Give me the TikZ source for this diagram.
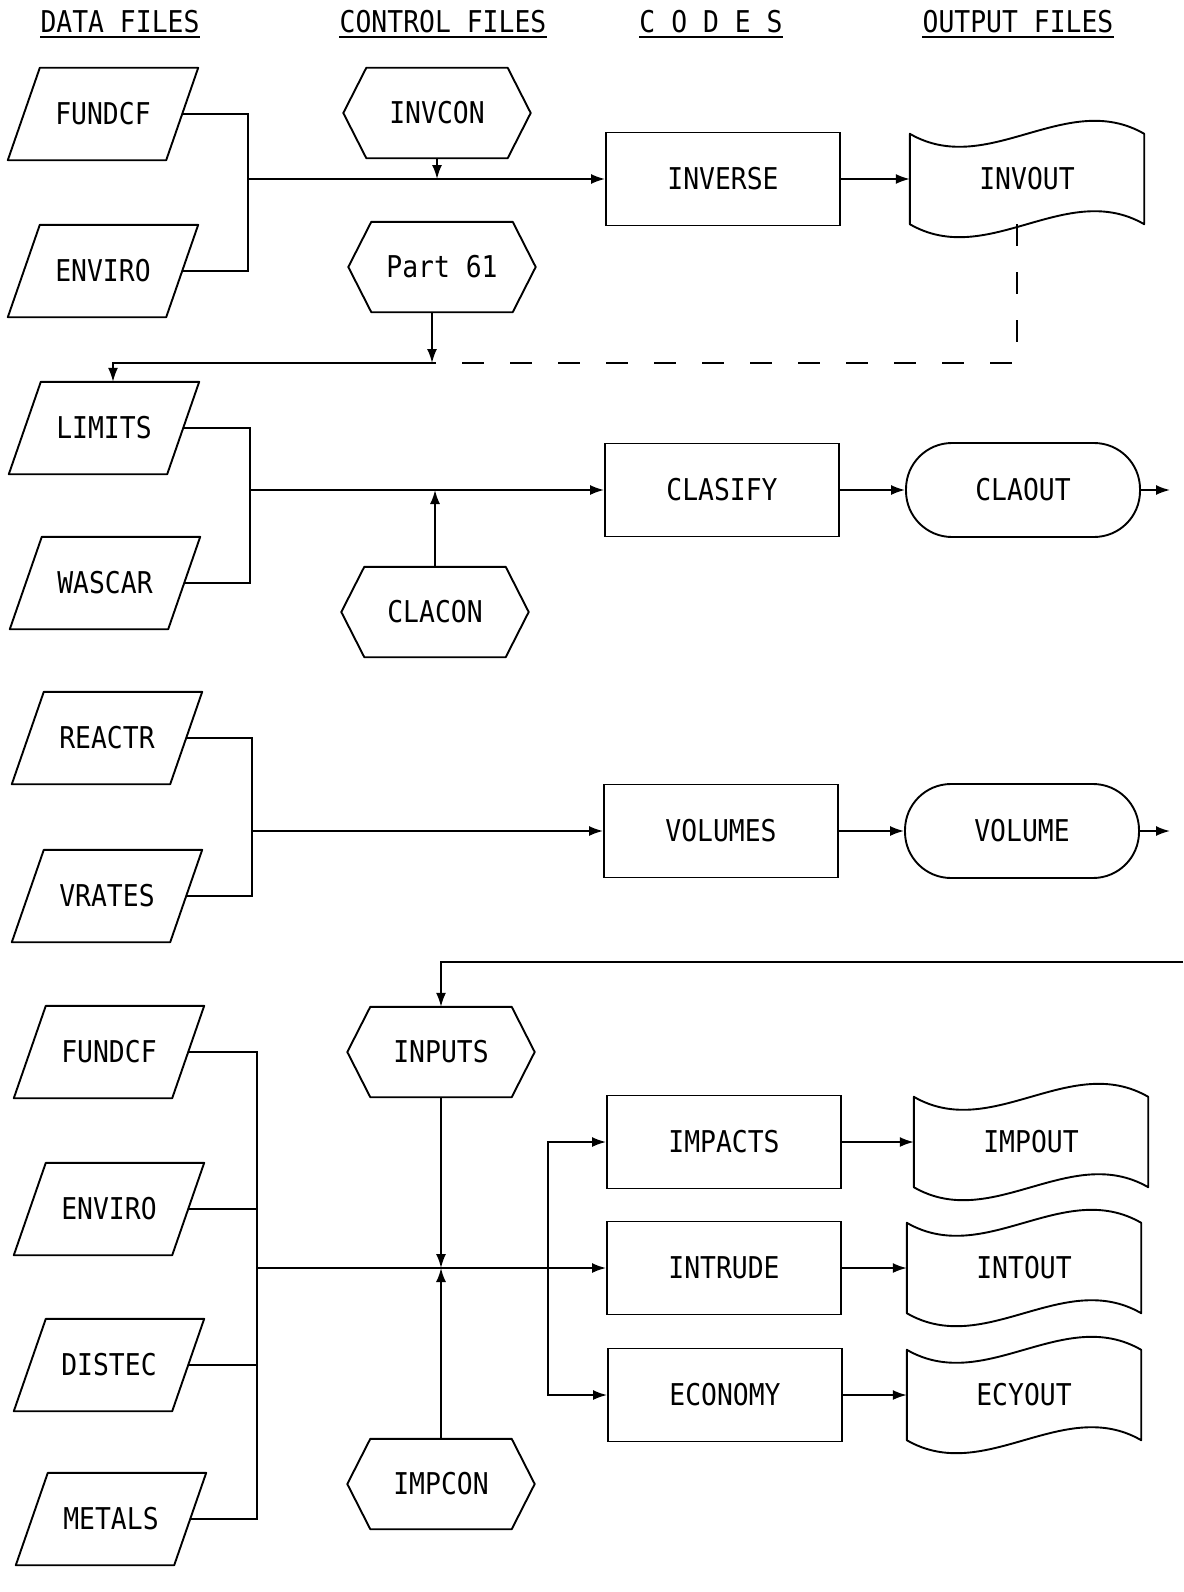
\documentclass[tikz,border=0pt]{standalone}
\usepackage{fontspec}
\setmonofont[FakeStretch=0.88]{DejaVu Sans Mono}
\usetikzlibrary{arrows.meta,calc}
\tikzset{
 lbl/.style={font=\ttfamily\fontsize{30}{34}\selectfont, inner sep=0pt, text=black},
 hdr/.style={lbl},
 datanode/.style={lbl, minimum width=158pt, minimum height=92pt},
 ctrlnode/.style={lbl, minimum width=187pt, minimum height=90pt},
 codenode/.style={lbl, draw, line width=1.9pt, minimum width=234pt, minimum height=93pt},
 stadnode/.style={lbl, draw, line width=1.9pt, minimum width=234pt, minimum height=94pt, rounded corners=46pt},
 tapenode/.style={lbl, minimum width=234pt, minimum height=90pt},
 outline/.style={draw, line width=1.9pt, line join=round},
 conn/.style={line width=1.8pt},
 arr/.style={conn, -{Latex[length=14pt,width=10pt]}},
 dashline/.style={conn, dash pattern=on 22pt off 26pt},
}
\newcommand\mkdata[4]{\node[datanode] (#1) at (#2,#3) {#4};
 \draw[outline] ([xshift=16pt]#1.north west) -- ([xshift=16pt]#1.north east) -- ([xshift=-16pt]#1.south east) -- ([xshift=-16pt]#1.south west) -- cycle;}
\newcommand\mkctrl[4]{\node[ctrlnode] (#1) at (#2,#3) {#4};
 \draw[outline] (#1.west) -- ([xshift=23pt]#1.north west) -- ([xshift=-23pt]#1.north east) -- (#1.east) -- ([xshift=-23pt]#1.south east) -- ([xshift=23pt]#1.south west) -- cycle;}
\newcommand\mktape[4]{\node[tapenode] (#1) at (#2,#3) {#4};
 \draw[outline] (#1.north west) .. controls +(78,45) and +(-78,-45) .. (#1.north east) -- (#1.south east) .. controls +(-78,-45) and +(78,45) .. (#1.south west) -- cycle;}
\begin{document}
\begin{tikzpicture}[x=1pt,y=-1pt]
\useasboundingbox (0,0) rectangle (1183,1592);
\fill[white] (0,0) rectangle (1183,1592);
% headers
\node[hdr] (h1) at (120,22) {DATA FILES};
\node[hdr] (h2) at (443,22) {CONTROL FILES};
\node[hdr] (h3) at (711,22) {C O D E S};
\node[hdr] (h4) at (1018,22) {OUTPUT FILES};
\foreach \h in {h1,h2,h3,h4}{\draw[line width=1.5pt] ([yshift=-4pt]\h.base west) -- ([yshift=-4pt]\h.base east);}
% row 1
\mkdata{d1}{103}{114}{FUNDCF}
\mkdata{d2}{103}{271}{ENVIRO}
\mkctrl{invcon}{437}{113}{INVCON}
\mkctrl{part61}{442}{267}{Part 61}
\node[codenode] (inverse) at (723,179) {INVERSE};
\mktape{invout}{1027}{179}{INVOUT}
\coordinate (b1) at (248,179);
\draw[conn] (d1.east) -| (b1);
\draw[conn] (d2.east) -| (b1);
\draw[arr] (b1) -- (inverse.west);
\draw[arr] (invcon.south) -- (invcon.south |- b1);
\draw[arr] (inverse.east) -- (invout.west);
\coordinate (j1) at ([xshift=-10pt]part61.south |- 0,363);
\draw[dashline] ([xshift=-10pt]invout.south) |- (j1);
\draw[arr] ([xshift=-10pt]part61.south) -- (j1);
% row 2
\mkdata{d3}{104}{428}{LIMITS}
\mkdata{d4}{105}{583}{WASCAR}
\draw[arr] (j1) -| ([xshift=9pt]d3.north);
\mkctrl{clacon}{435}{612}{CLACON}
\node[codenode] (clasify) at (722,490) {CLASIFY};
\node[stadnode] (claout) at (1023,490) {CLAOUT};
\coordinate (b2) at (250,490);
\draw[conn] (d3.east) -| (b2);
\draw[conn] (d4.east) -| (b2);
\draw[arr] (b2) -- (clasify.west);
\draw[arr] (clacon.north) -- (clacon.north |- b2);
\draw[arr] (clasify.east) -- (claout.west);
\coordinate (c2out) at (1170,490);
\draw[arr] (claout.east) -- (c2out);
% row 3
\mkdata{d5}{107}{738}{REACTR}
\mkdata{d6}{107}{896}{VRATES}
\node[codenode] (volumes) at (721,831) {VOLUMES};
\node[stadnode] (volume) at (1022,831) {VOLUME};
\coordinate (b3) at (252,831);
\draw[conn] (d5.east) -| (b3);
\draw[conn] (d6.east) -| (b3);
\draw[arr] (b3) -- (volumes.west);
\draw[arr] (volumes.east) -- (volume.west);
\coordinate (c3out) at (1170,831);
\draw[arr] (volume.east) -- (c3out);
% row 4
\mkdata{d7}{109}{1052}{FUNDCF}
\mkdata{d8}{109}{1209}{ENVIRO}
\mkdata{d9}{109}{1365}{DISTEC}
\mkdata{d10}{111}{1519}{METALS}
\mkctrl{inputs}{441}{1052}{INPUTS}
\mkctrl{impcon}{441}{1484}{IMPCON}
\coordinate (c4in) at (1183,962);
\draw[arr] (c4in) -| (inputs.north);
\node[codenode] (impacts) at (724,1142) {IMPACTS};
\node[codenode] (intrude) at (724,1268) {INTRUDE};
\node[codenode] (economy) at (725,1395) {ECONOMY};
\mktape{impout}{1031}{1142}{IMPOUT}
\mktape{intout}{1024}{1268}{INTOUT}
\mktape{ecyout}{1024}{1395}{ECYOUT}
\coordinate (b4) at (257,1268);
\draw[conn] (d7.east) -| (b4);
\draw[conn] (d8.east) -| (b4);
\draw[conn] (d9.east) -| (b4);
\draw[conn] (d10.east) -| (b4);
\draw[arr] (b4) -- (intrude.west);
\draw[arr] (inputs.south) -- (inputs.south |- b4);
\draw[arr] (impcon.north) -- (impcon.north |- b4);
\coordinate (br) at (548,1268);
\draw[arr] (br) |- (impacts.west);
\draw[arr] (br) |- (economy.west);
\draw[arr] (impacts.east) -- (impout.west);
\draw[arr] (intrude.east) -- (intout.west);
\draw[arr] (economy.east) -- (ecyout.west);
\end{tikzpicture}
\end{document}
